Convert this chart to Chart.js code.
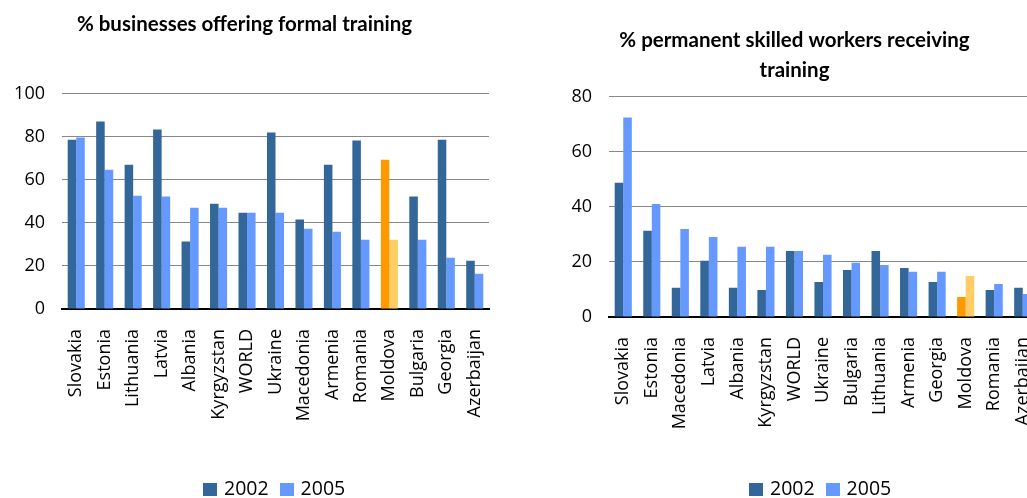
<!DOCTYPE html>
<html lang="en">
<head>
    <meta charset="UTF-8">
    <title>Training charts</title>
    <script src="https://cdn.jsdelivr.net/npm/chart.js"></script>
    <style>
        html, body {
            margin: 0;
            padding: 0;
            overflow: hidden;
            background: #fff;
            width: 1027px;
            height: 498px;
        }
        .box {
            position: absolute;
            top: 0;
        }
        .legend {
            position: absolute;
            top: 477px;
            font-family: "Open Sans";
            font-size: 19.5px;
            color: #000;
            white-space: nowrap;
            line-height: 22px;
        }
        .legend span.sw {
            display: inline-block;
            width: 14px;
            height: 13px;
            margin-right: 7px;
            vertical-align: -1px;
        }
        .legend span.lbl {
            margin-right: 11px;
        }
    </style>
</head>
<body>
    <div class="box" style="left: 0; width: 510px; height: 498px;">
        <canvas id="chartFirms" width="510" height="498"></canvas>
    </div>
    <div class="box" style="left: 540px; width: 507px; height: 498px;">
        <canvas id="chartWorkers" width="507" height="498"></canvas>
    </div>

    <div class="legend" style="left: 203px;">
        <span class="sw" style="background:#336699"></span><span class="lbl">2002</span><span class="sw" style="background:#6699FF"></span><span>2005</span>
    </div>
    <div class="legend" style="left: 749px;">
        <span class="sw" style="background:#336699"></span><span class="lbl">2002</span><span class="sw" style="background:#6699FF"></span><span>2005</span>
    </div>

    <script>
        // left chart: % businesses offering formal training
        const firmCountries = ['Slovakia', 'Estonia', 'Lithuania', 'Latvia', 'Albania', 'Kyrgyzstan', 'WORLD',
            'Ukraine', 'Macedonia', 'Armenia', 'Romania', 'Moldova', 'Bulgaria', 'Georgia', 'Azerbaijan'];
        const firms2002 = [78.6, 87, 67, 83.3, 31.3, 48.9, 44.7, 81.9, 41.5, 67, 78.2, 69.3, 52.2, 78.6, 22.4];
        const firms2005 = [79.6, 64.7, 52.6, 52.2, 47, 47, 44.7, 44.7, 37.3, 35.9, 32.2, 32.2, 32.2, 23.8, 16.4];
        const firmTicks = [0, 20, 40, 60, 80, 100];

        // right chart: % permanent skilled workers receiving training
        const workerCountries = ['Slovakia', 'Estonia', 'Macedonia', 'Latvia', 'Albania', 'Kyrgyzstan', 'WORLD',
            'Ukraine', 'Bulgaria', 'Lithuania', 'Armenia', 'Georgia', 'Moldova', 'Romania', 'Azerbaijan'];
        const workers2002 = [48.8, 31.3, 10.6, 20.4, 10.6, 9.8, 24, 12.7, 17.1, 24, 17.8, 12.7, 7.3, 9.8, 10.6];
        const workers2005 = [72.5, 41.1, 32, 29.1, 25.5, 25.5, 24, 22.6, 19.7, 18.9, 16.4, 16.4, 14.9, 12, 8.4];
        const workerTicks = [0, 20, 40, 60, 80];

        const seriesNames = ['2002', '2005'];
        const highlight = 'Moldova';

        const DARK = '#336699', LIGHT = '#6699FF', ORANGE = '#FF9900', ORANGE_LIGHT = '#FFCC66';

        function colorsFor(labels, normal, special) {
            return labels.map(c => c === highlight ? special : normal);
        }

        function makeChart(id, labels, a, b, ticks, title, opts) {
            const ctx = document.getElementById(id).getContext('2d');
            return new Chart(ctx, {
                type: 'bar',
                data: {
                    labels: labels,
                    datasets: [{
                        label: seriesNames[0],
                        data: a,
                        backgroundColor: colorsFor(labels, DARK, ORANGE),
                        borderWidth: 0,
                        categoryPercentage: 0.6,
                        barPercentage: 1.0
                    }, {
                        label: seriesNames[1],
                        data: b,
                        backgroundColor: colorsFor(labels, LIGHT, ORANGE_LIGHT),
                        borderWidth: 0,
                        categoryPercentage: 0.6,
                        barPercentage: 1.0
                    }]
                },
                options: {
                    responsive: false,
                    animation: false,
                    layout: {
                        padding: opts.padding
                    },
                    plugins: {
                        legend: { display: false },
                        tooltip: { enabled: false },
                        title: {
                            display: true,
                            text: title,
                            color: '#000',
                            font: { family: 'Lato', size: 20.5, weight: 'bold', lineHeight: opts.titleLine },
                            padding: opts.titlePadding
                        }
                    },
                    scales: {
                        x: {
                            grid: { display: false, drawTicks: false },
                            border: { display: true, color: '#000', width: 2 },
                            ticks: {
                                autoSkip: false,
                                maxRotation: 90,
                                minRotation: 90,
                                padding: 20,
                                color: '#000',
                                font: { family: 'Open Sans', size: 18 }
                            },
                            afterFit: s => {
                                s.height = opts.xHeight;
                                s.paddingLeft = 0;
                                s.paddingRight = 0;
                            }
                        },
                        y: {
                            min: 0,
                            max: ticks[ticks.length - 1],
                            afterBuildTicks: s => { s.ticks = ticks.map(v => ({ value: v })); },
                            grid: { color: '#888888', lineWidth: 1, drawTicks: false },
                            border: { display: false },
                            ticks: {
                                padding: 17,
                                color: '#000',
                                font: { family: 'Open Sans', size: 18 }
                            },
                            afterFit: s => { s.width = opts.yWidth; }
                        }
                    }
                }
            });
        }

        document.addEventListener('DOMContentLoaded', () => {
            makeChart('chartFirms', firmCountries, firms2002, firms2005, firmTicks,
                '% businesses offering formal training', {
                    padding: { left: 0, right: 21, top: 0, bottom: 0 },
                    titlePadding: { top: 12, bottom: 57 },
                    titleLine: 1.2,
                    xHeight: 189,
                    yWidth: 62
                });
            makeChart('chartWorkers', workerCountries, workers2002, workers2005, workerTicks,
                ['% permanent skilled workers receiving', 'training'], {
                    padding: { left: 12, right: 10, top: 0, bottom: 0 },
                    titlePadding: { top: 25, bottom: 12 },
                    titleLine: 1.46,
                    xHeight: 181,
                    yWidth: 57
                });
        });
    </script>
</body>
</html>
